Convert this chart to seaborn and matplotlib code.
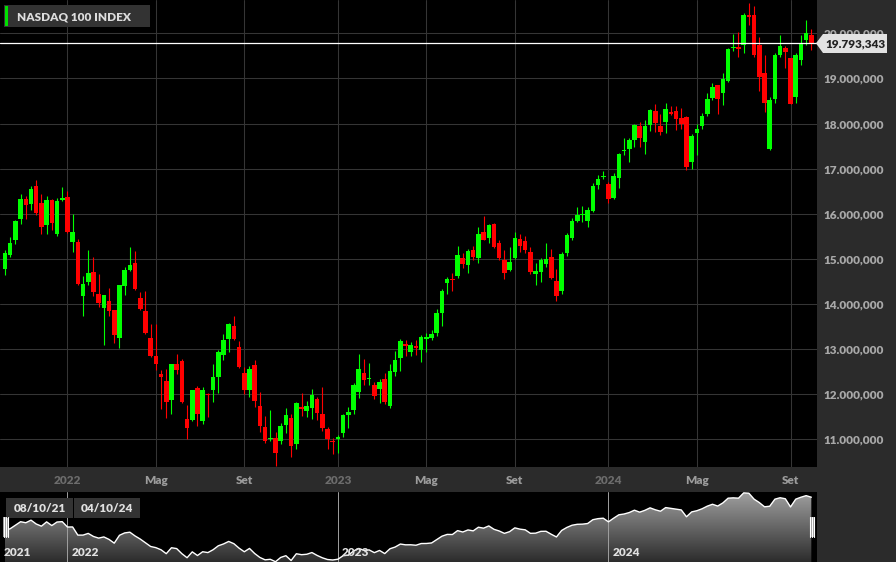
import numpy as np
import pandas as pd
import seaborn as sns
import matplotlib.pyplot as plt
from matplotlib.patches import Rectangle, Polygon
from matplotlib.colors import LinearSegmentedColormap
from matplotlib.ticker import FuncFormatter

# --- dati settimanali NASDAQ 100 ---
week_start = '2021-10-11'

opens = [14769, 15084, 15414, 15876, 16337, 16220, 16623, 16249, 15744, 16301,
         15560, 16308, 16381, 15377, 15370, 14168, 14497, 14710, 14226, 13904,
         14058, 13860, 13251, 14388, 14754, 14901, 14139, 13850, 13256, 12840,
         12447, 12284, 11861, 12662, 12729, 11453, 11431, 12143, 11401, 11995,
         12084, 12380, 12870, 13219, 13516, 13048, 12469, 12098, 12640, 11735,
         11267, 11000, 11037, 10970, 11318, 11467, 10896, 11726, 11630, 11689,
         11896, 11563, 11230, 10948, 11015, 11133, 11541, 11652, 12044, 12467,
         12333, 12207, 12111, 12341, 11748, 12481, 12800, 13089, 12941, 13059,
         12985, 13220, 13250, 13353, 13794, 14470, 14544, 14618, 15029, 14860,
         15191, 15029, 15595, 15470, 15765, 15353, 14985, 14750, 15029, 15448,
         15390, 15154, 14662, 14716, 14886, 15048, 14509, 14288, 15137, 15469,
         15838, 15963, 15838, 16066, 16635, 16804, 16657, 16354, 16782, 17395,
         17432, 17631, 17941, 17594, 17978, 18280, 17948, 18037, 18244, 18267,
         18133, 18148, 17148, 17780, 17941, 18222, 18556, 18844, 18667, 18948,
         19674, 19674, 19733, 20407, 20407, 19741, 19111, 17444, 18541, 19519,
         19681, 19444, 18578, 19407, 19852, 19963]

highs = [15194, 15487, 15868, 16440, 16396, 16623, 16748, 16440, 16403, 16330,
         16352, 16601, 16513, 16000, 15450, 14622, 15194, 15047, 14666, 14204,
         14351, 13874, 14431, 14813, 15252, 15172, 14273, 14287, 13553, 13553,
         12529, 12566, 12677, 12885, 12789, 11750, 12098, 12173, 12158, 12024,
         12662, 12989, 13330, 13568, 13731, 13174, 12603, 12618, 12751, 12047,
         11512, 11653, 11170, 11370, 11689, 11563, 11837, 12022, 11859, 12111,
         11948, 12155, 11282, 11022, 11096, 11563, 11711, 12244, 12896, 12778,
         12689, 12281, 12333, 12467, 12674, 12948, 13222, 13207, 13147, 13206,
         13316, 13353, 13426, 13882, 14323, 14588, 14676, 15279, 15132, 15228,
         15279, 15706, 15941, 15779, 15794, 15412, 15206, 15265, 15595, 15559,
         15500, 15265, 14897, 15011, 15343, 15210, 14768, 15144, 15565, 15912,
         16140, 16170, 16155, 16672, 16856, 16952, 16709, 16893, 17336, 17668,
         17683, 18000, 18037, 18089, 18332, 18428, 18221, 18458, 18384, 18385,
         18333, 18163, 17778, 17990, 18237, 18667, 18904, 18852, 19111, 19682,
         19985, 20030, 20444, 20681, 20607, 19911, 19519, 18578, 19570, 19963,
         19719, 19444, 19556, 19963, 20296, 20089]

lows = [14644, 15033, 15340, 15780, 15890, 16088, 15963, 15546, 15560, 15648,
        15502, 16290, 15575, 15157, 14424, 13728, 14424, 14182, 13933, 13083,
        13728, 13141, 13031, 14204, 14739, 14314, 13864, 13345, 12830, 12529,
        11676, 11475, 11564, 12440, 11802, 11008, 11401, 11290, 11342, 11490,
        11824, 12024, 12751, 12937, 13197, 12588, 12009, 11935, 11713, 11156,
        10911, 10971, 10408, 10896, 11148, 10615, 10778, 11519, 11504, 11445,
        11430, 11193, 10778, 10674, 10689, 11044, 11244, 11563, 11911, 12207,
        12207, 11889, 11815, 11785, 11689, 12393, 12504, 12837, 12838, 12875,
        12713, 12926, 13191, 13294, 13515, 14220, 14287, 14566, 14787, 14676,
        14970, 14912, 15412, 15353, 15250, 14970, 14544, 14735, 15007, 15154,
        15132, 14662, 14419, 14494, 14827, 14546, 14074, 14221, 15063, 15417,
        15823, 15823, 15697, 16044, 16554, 16760, 16244, 16317, 16561, 17299,
        17137, 17469, 17469, 17314, 17838, 17801, 17756, 17793, 18185, 17867,
        17889, 16978, 17000, 17296, 17889, 18163, 18519, 18207, 18400, 18926,
        19615, 19467, 19570, 20185, 19481, 18726, 18259, 17407, 18444, 19481,
        19222, 18422, 18459, 19296, 19741, 19630]

closes = [15135, 15348, 15839, 16337, 16191, 16557, 16015, 15707, 16315, 15795,
          16293, 16345, 15590, 15597, 14446, 14446, 14688, 14256, 14021, 14190,
          13838, 13310, 14417, 14754, 14857, 14329, 13887, 13360, 12840, 12677,
          12373, 11824, 12662, 12544, 11824, 11253, 12084, 11564, 12098, 11980,
          12380, 12937, 13197, 13553, 13234, 12603, 12098, 12566, 11846, 11290,
          10956, 11030, 10689, 11296, 11541, 10859, 11815, 11682, 11741, 11985,
          11578, 11244, 11000, 10933, 11044, 11541, 11615, 12200, 12563, 12304,
          12356, 11970, 12281, 11837, 12519, 12763, 13185, 13074, 13081, 13015,
          13257, 13265, 13338, 13809, 14294, 14544, 14529, 15081, 14882, 15176,
          15044, 15559, 15426, 15743, 15265, 15029, 14691, 14934, 15470, 15287,
          15191, 14698, 14720, 14974, 14989, 14568, 14185, 15100, 15528, 15838,
          15971, 15993, 16081, 16620, 16768, 16834, 16317, 16834, 17314, 17424,
          17631, 17963, 17683, 17941, 18295, 18022, 17815, 18332, 18221, 18111,
          18000, 17037, 17719, 17889, 18163, 18533, 18800, 18548, 18993, 19659,
          19704, 19659, 20407, 20355, 19519, 19037, 18444, 18519, 19519, 19719,
          19578, 18422, 19519, 19793, 20015, 19793.343]

tick_months = ['2022-01', '2022-05', '2022-09', '2023-01', '2023-05', '2023-09',
               '2024-01', '2024-05', '2024-09']
tick_labels = ['2022', 'Mag', 'Set', '2023', 'Mag', 'Set', '2024', 'Mag', 'Set']
nav_years = ['2022', '2023', '2024']
y_ticks = [11000, 12000, 13000, 14000, 15000, 16000, 17000, 18000, 19000, 20000]
last_price = 19793.343
range_labels = ['08/10/21', '04/10/24']
title = 'NASDAQ 100 INDEX'

W, H = 896, 562
GREEN, RED = '#00ff00', '#ff0000'
BOLD = 'heavy'


def fmt_it(v, pos=None):
    s = f'{v:,.3f}'
    return s.replace(',', 'X').replace('.', ',').replace('X', '.')


def px(x, y):
    return (x / W, 1 - y / H)


if __name__ == "__main__":
    sns.set_style('dark')
    plt.rcParams['font.family'] = ['Lato', 'DejaVu Sans']

    df = pd.DataFrame({'open': opens, 'high': highs, 'low': lows, 'close': closes})
    df['week'] = pd.date_range(week_start, periods=len(df), freq='7D')
    df['x'] = np.arange(len(df))
    up = df['close'] >= df['open']
    colors = np.where(up, GREEN, RED)

    # posizione della settimana che contiene il primo giorno lavorativo del mese
    tick_pos = []
    for m in tick_months:
        first = pd.Timestamp(m + '-01')
        while first.weekday() > 4:
            first += pd.Timedelta(days=1)
        tick_pos.append(int((first - df['week'][0]).days // 7))

    fig = plt.figure(figsize=(W / 100, H / 100), dpi=100, facecolor='#2b2b2b')
    ax = fig.add_axes([0, 95 / H, 817 / W, 467 / H])
    nav = fig.add_axes([0, 0, 817 / W, 70 / H])
    xlim = (-0.96, 156.09)

    # --- candele ---
    ax.set_facecolor('black')
    ax.vlines(df['x'], df['low'], df['high'], colors=colors, lw=0.8, zorder=3)
    body_bot = np.minimum(df['open'], df['close'])
    body_h = np.maximum((df['close'] - df['open']).abs(), 28)
    ax.bar(df['x'], body_h, bottom=body_bot, width=0.88, color=colors, lw=0, zorder=4)
    ax.axhline(last_price, color='white', lw=0.9, zorder=6)

    ax.set_xlim(*xlim)
    ax.set_ylim(10386, 20738)
    ax.set_yticks(y_ticks)
    ax.yaxis.set_major_formatter(FuncFormatter(fmt_it))
    ax.yaxis.tick_right()
    ax.set_xticks(tick_pos)
    ax.set_xticklabels(tick_labels)
    ax.grid(True, color='#353535', lw=0.75)
    ax.set_axisbelow(True)
    for s in ax.spines.values():
        s.set_visible(False)
    ax.tick_params(axis='y', length=0, pad=5, labelsize=8.5, labelcolor='#a8a8a8')
    ax.tick_params(axis='x', length=0, pad=6, labelsize=8.5)
    for lab, txt in zip(ax.get_xticklabels(), tick_labels):
        lab.set_fontweight(BOLD)
        lab.set_color('#6c6c6c' if txt.isdigit() else '#9c9c9c')
    for lab in ax.get_yticklabels():
        lab.set_fontweight(BOLD)

    # etichetta prezzo corrente
    tag = Polygon([px(816, 43.3), px(823, 34), px(887, 34), px(887, 53), px(823, 53)],
                  closed=True, transform=fig.transFigure, facecolor='#e2e2e2',
                  edgecolor='none', zorder=10)
    fig.patches.append(tag)
    fig.text(825 / W, 1 - 43.5 / H, fmt_it(last_price), ha='left', va='center',
             fontsize=8.5, fontweight=BOLD, color='#222222', zorder=11)

    # legenda
    fig.patches.append(Rectangle(px(4, 27), 146 / W, 22 / H, transform=fig.transFigure,
                                 facecolor='#333333', edgecolor='none', zorder=10))
    fig.patches.append(Rectangle(px(5, 26), 3 / W, 20 / H, transform=fig.transFigure,
                                 facecolor='#00e000', edgecolor='none', zorder=11))
    fig.text(17 / W, 1 - 16.5 / H, title, ha='left', va='center', fontsize=8.5,
             fontweight=BOLD, color='#dddddd', zorder=12)

    # --- navigatore ---
    nav.set_facecolor('black')
    ylo, yhi = 10650, 20530
    grad = np.linspace(1, 0, 256).reshape(-1, 1)
    cmap = LinearSegmentedColormap.from_list('nav', ['#2c2c2c', '#a0a0a0'])
    im = nav.imshow(grad, extent=[xlim[0], xlim[1], ylo, yhi], aspect='auto',
                    cmap=cmap, origin='upper', zorder=1)
    verts = list(zip(df['x'], df['close'])) + [(df['x'].iloc[-1], ylo), (0, ylo)]
    clip = Polygon(verts, closed=True, facecolor='none', edgecolor='none')
    nav.add_patch(clip)
    im.set_clip_path(clip)
    sns.lineplot(x=df['x'], y=df['close'], ax=nav, color='white', lw=1, zorder=3)
    nav.set_xlim(*xlim)
    nav.set_ylim(ylo, yhi)
    nav.set_xticks([])
    nav.set_yticks([])
    nav.set_xlabel('')
    nav.set_ylabel('')
    nav.grid(False)
    for s in nav.spines.values():
        s.set_visible(False)

    for yr, p in zip(nav_years, [tick_pos[0], tick_pos[3], tick_pos[6]]):
        nav.axvline(p, color='#a0a0a0', lw=0.7, zorder=2)
    year_pos = [-0.2] + [tick_pos[0] + 0.8, tick_pos[3] + 0.8, tick_pos[6] + 0.8]
    for yr, p in zip(['2021'] + nav_years, year_pos):
        nav.text(p, 0.13, yr, transform=nav.get_xaxis_transform(), ha='left',
                 va='center', fontsize=8.5, fontweight=BOLD, color='#e0e0e0', zorder=5)

    # maniglie
    for x0 in [3, 809.5]:
        fig.patches.append(Rectangle(px(x0, 537), 5 / W, 20 / H, transform=fig.transFigure,
                                     facecolor='#9a9a9a', edgecolor='none', zorder=10))
        for dx in [0.5, 2.5, 4.5]:
            fig.lines.append(plt.Line2D([(x0 + dx) / W] * 2, [1 - 537 / H, 1 - 517 / H],
                                        transform=fig.transFigure, color='white', lw=0.8,
                                        zorder=11))

    # date del range
    for (x0, x1), lab in zip([(6, 73), (74, 140)], range_labels):
        fig.patches.append(Rectangle(px(x0, 518), (x1 - x0) / W, 20 / H,
                                     transform=fig.transFigure, facecolor='#333333',
                                     edgecolor='none', zorder=10))
        fig.text((x0 + x1) / 2 / W, 1 - 508.5 / H, lab, ha='center', va='center',
                 fontsize=8.5, fontweight=BOLD, color='#e0e0e0', zorder=12)

    fig.savefig('out.png', dpi=100, facecolor=fig.get_facecolor())
